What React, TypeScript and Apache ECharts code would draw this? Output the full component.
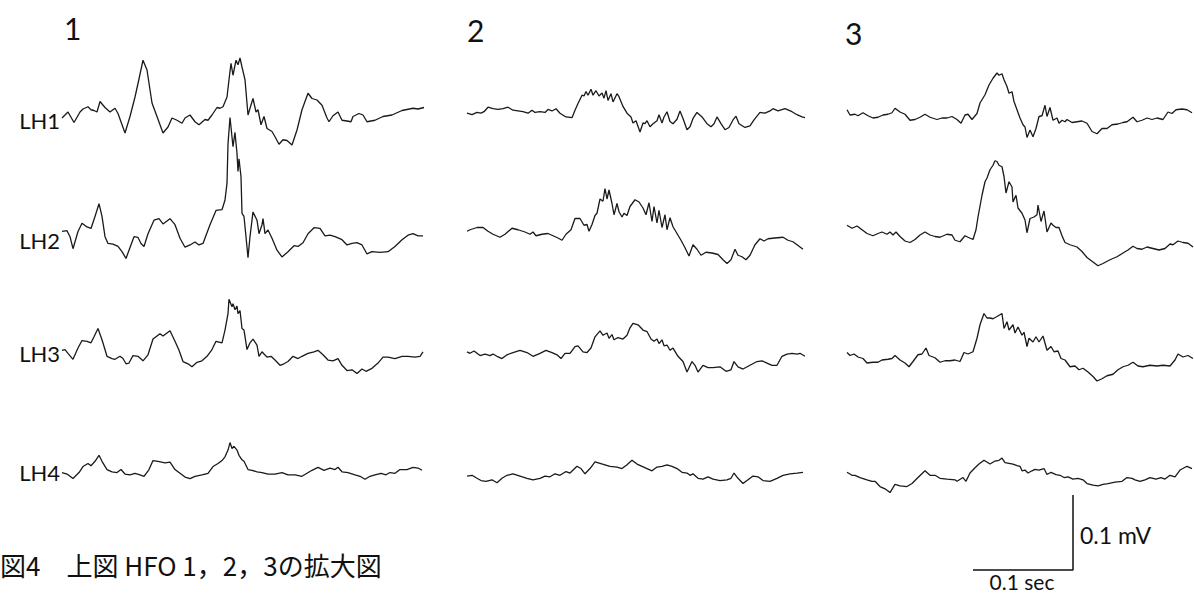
import React, { useEffect, useRef } from "react";
import * as echarts from "echarts";

// ---- data: time in ms from trace start, amplitude in µV ----
const CHANNELS = ["LH1", "LH2", "LH3", "LH4"];
const EVENTS = ["1", "2", "3"];

const HFO1_LH1 = [[0,-4],[6,4],[12,-10],[18,4],[21,8],[26,11],[29,7],[32,6],[35,4],[38,18],[43,10],[48,4],[53,9],[56,2],[63,-24],[68,-2],[73,24],[76,42],[81,73],[85,60],[90,16],[95,-2],[101,-24],[106,-16],[110,-4],[115,-7],[120,-11],[123,-4],[128,0],[133,-9],[137,-13],[143,-6],[146,-7],[150,0],[155,10],[158,9],[161,11],[165,24],[167,47],[169,69],[171,53],[174,73],[176,67],[178,76],[180,64],[183,47],[186,0],[188,9],[191,22],[194,4],[196,7],[199,-13],[202,-2],[205,-18],[210,-22],[213,-29],[217,-39],[221,-33],[225,-34],[230,-40],[235,-20],[240,7],[246,29],[250,22],[255,20],[260,13],[265,-4],[267,-9],[271,-1],[276,4],[280,-7],[285,-8],[289,-9],[291,-2],[297,2],[301,0],[305,-9],[313,-7],[321,-2],[330,0],[340,6],[351,9],[356,8],[362,10]];
const HFO1_LH2 = [[0,7],[5,8],[8,0],[11,-16],[16,7],[20,18],[25,13],[29,11],[33,27],[37,44],[40,27],[43,0],[46,-9],[51,-10],[56,-13],[60,-20],[64,-29],[67,-18],[72,0],[76,-1],[79,-9],[82,-13],[86,4],[92,22],[97,24],[101,17],[108,24],[113,16],[118,-2],[123,-14],[128,-11],[133,-7],[137,-11],[141,-9],[148,16],[154,35],[160,36],[163,49],[165,71],[166,124],[168,159],[170,133],[171,120],[173,139],[175,111],[176,87],[177,104],[179,80],[180,31],[182,27],[184,0],[186,-28],[188,0],[191,33],[195,22],[197,4],[200,16],[201,24],[203,4],[206,9],[210,-2],[215,-18],[220,-27],[226,-20],[232,-12],[236,-13],[241,-8],[246,4],[252,12],[258,11],[263,1],[268,2],[273,0],[280,-4],[285,-11],[290,-9],[295,-8],[300,-11],[305,-23],[310,-20],[318,-21],[326,-20],[333,-13],[340,-4],[346,2],[351,4],[356,1],[361,1]];
const HFO1_LH3 = [[0,4],[3,5],[6,0],[11,-8],[16,7],[20,17],[25,16],[29,14],[32,22],[36,33],[40,18],[45,-4],[50,-7],[53,-8],[58,-4],[61,-7],[64,-14],[67,-13],[71,-3],[76,-4],[81,-10],[86,-2],[91,19],[98,26],[101,23],[108,30],[113,16],[117,4],[121,-11],[126,-14],[130,-18],[135,-12],[140,-10],[145,-4],[150,5],[154,16],[160,14],[163,31],[166,53],[167,72],[170,62],[171,66],[173,58],[175,63],[176,53],[178,57],[180,33],[182,31],[185,5],[188,14],[191,19],[195,11],[197,-4],[200,2],[202,-1],[205,-5],[209,-4],[213,-9],[218,-16],[222,-14],[226,-11],[231,-4],[236,-7],[240,-4],[246,0],[252,2],[256,4],[261,-2],[266,-9],[271,-10],[276,-7],[280,-16],[285,-23],[290,-22],[295,-27],[300,-21],[304,-24],[310,-20],[316,-13],[321,-5],[326,-5],[333,-7],[340,-4],[346,-4],[353,-5],[358,-4],[361,2]];
const HFO1_LH4 = [[0,1],[5,-1],[11,-7],[17,1],[21,9],[26,13],[29,10],[33,16],[37,24],[40,16],[45,5],[50,2],[55,1],[59,5],[63,-1],[68,-2],[73,0],[78,-2],[82,-4],[87,5],[91,17],[96,16],[103,14],[108,15],[113,5],[118,0],[123,-5],[128,-7],[133,-4],[140,-2],[146,0],[151,9],[156,13],[160,17],[163,22],[166,31],[168,41],[170,33],[172,36],[175,31],[177,24],[180,18],[182,16],[186,5],[190,4],[195,2],[200,1],[206,-1],[213,-1],[220,1],[226,-2],[233,-2],[240,-4],[245,0],[250,4],[256,8],[262,4],[268,7],[273,5],[276,8],[280,2],[286,1],[293,-2],[298,-4],[303,-8],[308,-4],[313,-2],[319,0],[324,-2],[328,1],[333,0],[338,5],[345,5],[351,8],[356,7],[360,4]];

const HFO2_LH1 = [[0,-2],[5,-4],[10,-1],[14,-2],[17,0],[21,6],[26,4],[31,3],[36,4],[41,6],[46,2],[51,1],[56,0],[61,-2],[65,2],[68,-1],[73,0],[78,-1],[81,3],[85,1],[89,4],[93,-2],[99,-7],[105,-8],[108,2],[111,11],[115,22],[117,21],[119,27],[121,22],[124,30],[126,22],[129,28],[132,21],[135,25],[137,18],[139,28],[141,15],[144,24],[146,13],[150,24],[152,20],[156,7],[160,-2],[164,-7],[166,-15],[169,-12],[173,-27],[176,-15],[178,-16],[180,-12],[183,-20],[186,-16],[190,-12],[192,-4],[195,-15],[197,-7],[200,0],[203,-13],[206,-16],[210,-10],[213,1],[216,-9],[220,-24],[223,-20],[226,-9],[230,-1],[235,-7],[240,-16],[244,-20],[247,-16],[250,-7],[254,-16],[258,-24],[262,-21],[266,-11],[269,-6],[272,-16],[278,-21],[283,-19],[287,-11],[293,-1],[298,-2],[303,1],[306,4],[311,1],[318,4],[325,0],[330,-4],[335,-7],[338,-8]];
const HFO2_LH2 = [[0,5],[3,7],[10,10],[16,10],[21,5],[26,1],[33,-3],[38,1],[45,9],[51,7],[58,4],[63,1],[66,4],[69,-1],[75,1],[81,2],[86,-1],[91,-4],[95,-7],[99,1],[104,7],[108,22],[113,22],[117,13],[120,14],[122,5],[125,14],[128,26],[130,29],[133,48],[136,45],[138,62],[140,48],[142,60],[145,42],[147,27],[150,42],[152,31],[155,24],[157,29],[160,26],[163,38],[168,47],[172,44],[176,36],[179,27],[182,43],[185,18],[187,38],[190,16],[192,33],[195,10],[198,27],[200,7],[203,23],[206,11],[210,2],[214,-7],[218,-17],[222,-28],[226,-13],[230,-19],[234,-27],[239,-23],[245,-24],[251,-26],[256,-33],[260,-38],[264,-33],[268,-19],[271,-27],[275,-29],[279,-33],[283,-27],[288,-13],[293,-5],[297,-8],[301,-5],[308,-4],[316,-3],[321,-7],[326,-9],[331,-14],[336,-19]];
const HFO2_LH3 = [[0,2],[3,0],[7,3],[13,-3],[18,-1],[23,-3],[26,-1],[30,-4],[35,-7],[40,-2],[46,1],[53,4],[60,1],[66,-4],[73,0],[79,4],[85,1],[90,-2],[94,-7],[98,0],[103,0],[108,9],[111,10],[116,2],[120,1],[124,7],[128,22],[133,30],[136,24],[140,27],[142,20],[145,25],[147,18],[151,21],[156,19],[160,24],[163,34],[166,40],[171,38],[176,31],[180,29],[184,19],[187,16],[190,19],[192,13],[195,18],[197,10],[200,11],[203,4],[206,7],[211,-4],[216,-11],[220,-25],[225,-11],[228,-16],[231,-25],[236,-16],[241,-19],[246,-19],[253,-18],[259,-24],[264,-22],[267,-11],[271,-18],[276,-21],[283,-16],[290,-11],[295,-10],[300,-13],[305,-16],[310,-16],[315,-4],[320,-1],[325,0],[330,-1],[333,0],[338,-4]];
const HFO2_LH4 = [[0,3],[5,4],[10,0],[14,-3],[19,-4],[25,-2],[30,-6],[35,0],[40,4],[46,6],[53,3],[60,0],[66,-2],[73,0],[78,3],[83,2],[88,6],[93,4],[99,9],[103,7],[110,16],[114,13],[118,6],[123,13],[128,22],[133,20],[138,18],[143,16],[150,15],[155,13],[160,18],[165,24],[170,19],[175,16],[180,13],[185,10],[190,15],[195,16],[200,18],[205,16],[210,13],[215,8],[220,7],[223,4],[226,6],[231,0],[236,-1],[241,2],[246,-1],[253,-3],[260,-2],[264,0],[267,7],[271,0],[276,-7],[281,-2],[286,3],[291,2],[296,-3],[303,-4],[310,0],[316,4],[323,6],[330,7],[336,8]];

const HFO3_LH1 = [[0,7],[3,0],[8,1],[11,-1],[16,3],[21,-1],[26,-4],[31,-3],[36,0],[41,1],[45,3],[48,9],[53,4],[58,1],[63,-7],[68,-6],[73,-3],[78,1],[83,-3],[90,-6],[95,-4],[100,-4],[105,-2],[110,-6],[114,-11],[118,0],[121,1],[125,-6],[130,2],[133,16],[138,27],[142,40],[146,49],[150,56],[152,53],[155,55],[157,47],[160,38],[162,29],[165,31],[167,18],[170,7],[173,-4],[176,-13],[178,-16],[180,-30],[183,-20],[186,-29],[189,-18],[192,-2],[195,-1],[198,13],[200,-2],[203,10],[206,-7],[210,-4],[212,-11],[215,-7],[218,-9],[220,-6],[225,-10],[230,-9],[235,-8],[240,-11],[245,-22],[250,-25],[255,-18],[260,-18],[265,-13],[271,-12],[276,-10],[280,-9],[286,-3],[290,-9],[295,-7],[300,-4],[305,-6],[310,-4],[316,-6],[321,4],[325,2],[329,7],[335,8],[340,7],[345,3]];
const HFO3_LH2 = [[0,13],[5,9],[10,12],[15,7],[20,2],[26,-1],[31,2],[35,4],[40,1],[43,4],[46,0],[49,4],[53,-2],[58,-8],[63,-10],[68,-6],[73,0],[78,4],[83,0],[88,-2],[93,-3],[100,1],[105,0],[108,-7],[113,-9],[118,-1],[121,-3],[126,-6],[129,7],[131,24],[135,53],[138,71],[140,76],[143,87],[146,93],[148,99],[150,98],[152,93],[155,91],[157,78],[159,56],[162,71],[165,64],[166,44],[169,53],[171,36],[175,29],[178,20],[180,3],[183,22],[187,24],[190,27],[191,40],[194,18],[197,32],[200,4],[204,16],[206,13],[209,10],[212,10],[215,-1],[218,-10],[223,-13],[230,-16],[235,-22],[240,-30],[246,-36],[251,-41],[256,-38],[263,-33],[270,-29],[276,-24],[281,-20],[286,-15],[290,-18],[295,-19],[300,-16],[306,-18],[312,-20],[318,-18],[323,-12],[326,-13],[331,-8],[336,-10],[341,-11],[346,-16]];
const HFO3_LH3 = [[0,10],[3,6],[7,8],[11,4],[16,2],[20,-4],[26,-3],[31,-3],[35,0],[41,1],[45,2],[48,6],[53,0],[58,-4],[62,-9],[66,-2],[71,7],[75,8],[79,16],[82,6],[88,3],[93,-3],[98,-1],[103,-1],[108,0],[113,-2],[117,10],[121,8],[126,11],[130,29],[133,47],[137,62],[140,56],[143,56],[146,55],[150,58],[155,62],[157,42],[160,51],[162,40],[166,47],[168,36],[171,44],[175,33],[177,37],[180,18],[182,29],[186,24],[189,31],[192,24],[196,32],[200,13],[204,18],[207,11],[211,12],[214,2],[218,0],[223,-9],[228,-8],[232,-13],[236,-11],[241,-16],[246,-22],[250,-28],[255,-25],[260,-21],[266,-19],[271,-13],[276,-9],[281,-7],[286,-3],[291,-8],[296,-9],[303,-7],[310,-8],[316,-7],[323,-8],[328,0],[331,8],[336,4],[341,6],[346,2]];
const HFO3_LH4 = [[0,8],[5,4],[8,4],[13,1],[20,-2],[25,-4],[28,-4],[33,-11],[38,-14],[43,-19],[48,-8],[53,-10],[60,-11],[65,-7],[71,1],[78,10],[83,4],[88,4],[93,0],[100,-1],[108,-2],[110,-4],[116,1],[119,-4],[123,7],[128,14],[132,19],[137,24],[143,19],[148,23],[152,24],[155,27],[158,21],[162,20],[166,19],[170,17],[173,16],[175,10],[178,11],[181,7],[185,10],[188,12],[192,11],[197,13],[200,5],[204,8],[209,5],[213,4],[217,1],[221,2],[226,-1],[231,0],[236,-2],[240,-7],[246,-9],[251,-10],[256,-8],[261,-7],[268,-5],[275,-4],[280,1],[285,0],[288,-2],[293,-4],[298,-2],[303,1],[309,-1],[314,1],[318,-1],[323,4],[328,2],[333,11],[340,16],[345,13]];

const TRACES = [
  [HFO1_LH1, HFO1_LH2, HFO1_LH3, HFO1_LH4],
  [HFO2_LH1, HFO2_LH2, HFO2_LH3, HFO2_LH4],
  [HFO3_LH1, HFO3_LH2, HFO3_LH3, HFO3_LH4],
];

// scale bar: 100 ms horizontal, 100 µV vertical
const SCALE_BAR = [[0, 0], [100, 0], [100, 100]];
const SCALE_LABELS = ["0.1 mV", "0.1 sec"];
const CAPTION = "図4　上図 HFO 1，2，3の拡大図";

// ---- layout ----
const W = 1194;
const H = 594;
const COL_LEFT = [62, 467, 847];
const COL_SPAN = [365, 345, 347]; // ms (1 px per ms)
const BASELINE = [
  [115, 236.7, 353.3, 473.3],
  [111.7, 235, 353.3, 478.3],
  [115, 235, 360, 478.3],
];
const PX_PER_UV = 0.75;
const Y_MIN = -100;
const Y_MAX = [100, 170, 100, 100];
const LABEL_Y = [120, 240, 353, 472];
const EVENT_POS = [[64, 28], [467, 30], [845, 33]];
const TRACE_COLOR = "#1a1a1a";
const LATIN = "Lato, 'Open Sans', sans-serif";

export default function App() {
  const ref = useRef<HTMLDivElement>(null);

  useEffect(() => {
    if (!ref.current) return;
    const chart = echarts.init(ref.current, undefined, { renderer: "svg", width: W, height: H });

    const grid: any[] = [];
    const xAxis: any[] = [];
    const yAxis: any[] = [];
    const series: any[] = [];

    TRACES.forEach((col, c) => {
      col.forEach((trace, r) => {
        const idx = grid.length;
        grid.push({
          left: COL_LEFT[c],
          width: COL_SPAN[c],
          top: BASELINE[c][r] - Y_MAX[r] * PX_PER_UV,
          height: (Y_MAX[r] - Y_MIN) * PX_PER_UV,
          containLabel: false,
        });
        xAxis.push({ type: "value", gridIndex: idx, min: 0, max: COL_SPAN[c], show: false });
        yAxis.push({ type: "value", gridIndex: idx, min: Y_MIN, max: Y_MAX[r], show: false });
        series.push({
          name: `HFO ${EVENTS[c]} ${CHANNELS[r]}`,
          type: "line",
          xAxisIndex: idx,
          yAxisIndex: idx,
          data: trace,
          showSymbol: false,
          symbol: "none",
          clip: false,
          silent: true,
          lineStyle: { color: TRACE_COLOR, width: 1.3 },
        });
      });
    });

    // scale bar grid
    const sIdx = grid.length;
    grid.push({ left: 973, width: 100, top: 495, height: 100 * PX_PER_UV });
    xAxis.push({ type: "value", gridIndex: sIdx, min: 0, max: 100, show: false });
    yAxis.push({ type: "value", gridIndex: sIdx, min: 0, max: 100, show: false });
    series.push({
      name: "scale",
      type: "line",
      xAxisIndex: sIdx,
      yAxisIndex: sIdx,
      data: SCALE_BAR,
      showSymbol: false,
      symbol: "none",
      clip: false,
      silent: true,
      lineStyle: { color: "#111", width: 1.5 },
    });

    const graphic: any[] = [];
    CHANNELS.forEach((ch, r) => {
      graphic.push({
        type: "text",
        x: 60,
        y: LABEL_Y[r],
        style: { text: ch, fill: "#111", font: `22px ${LATIN}`, align: "right", verticalAlign: "middle" },
      });
    });
    EVENTS.forEach((ev, c) => {
      graphic.push({
        type: "text",
        x: EVENT_POS[c][0],
        y: EVENT_POS[c][1],
        style: { text: ev, fill: "#111", font: `30px ${LATIN}`, align: "left", verticalAlign: "middle" },
      });
    });
    graphic.push({
      type: "text",
      x: 1080,
      y: 535,
      style: { text: SCALE_LABELS[0], fill: "#111", font: `23px ${LATIN}`, align: "left", verticalAlign: "middle" },
    });
    graphic.push({
      type: "text",
      x: 1022,
      y: 581,
      style: { text: SCALE_LABELS[1], fill: "#111", font: `21px ${LATIN}`, align: "center", verticalAlign: "middle" },
    });
    graphic.push({
      type: "text",
      x: 0,
      y: 564,
      style: {
        text: CAPTION,
        fill: "#111",
        font: `26px 'Noto Sans CJK JP', sans-serif`,
        align: "left",
        verticalAlign: "middle",
      },
    });

    chart.setOption({
      animation: false,
      backgroundColor: "#ffffff",
      grid,
      xAxis,
      yAxis,
      series,
      graphic,
    });

    return () => chart.dispose();
  }, []);

  return (
    <div
      ref={ref}
      style={{ position: "fixed", left: 0, top: 0, width: W, height: H, background: "#fff" }}
    />
  );
}
